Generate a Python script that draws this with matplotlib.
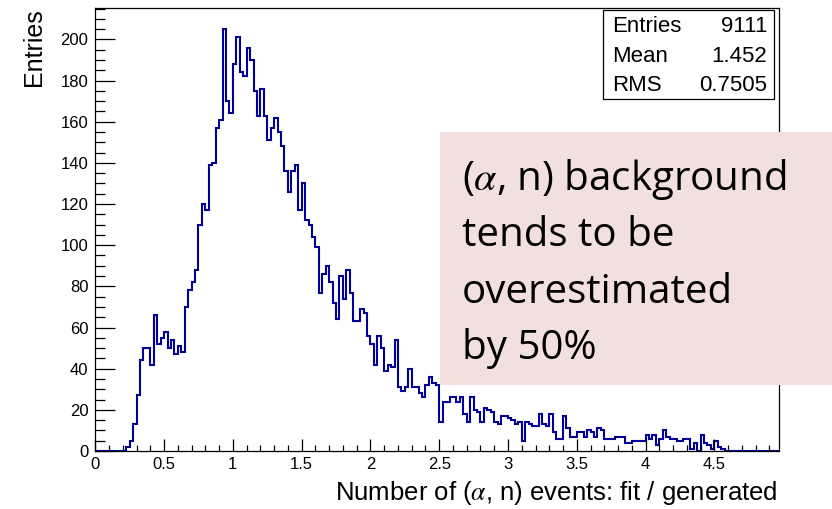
import numpy as np
import matplotlib
matplotlib.use('Agg')
import matplotlib.pyplot as plt
from matplotlib.ticker import MultipleLocator

# bin contents, 0.025 wide bins starting at 0
low_bins = [0, 0, 0, 0, 0, 0, 0, 0, 0,
            2, 5, 13, 27, 44, 50, 50, 42, 66, 52, 55, 58, 50, 54, 47, 51, 48,
            70, 78, 82, 88, 110, 120, 117]
peak_bins = [139, 140, 157, 161, 205, 170, 164, 188, 201, 184, 182, 196, 190,
             175, 163, 176, 163, 151, 157, 162, 155, 148, 136, 126, 136, 139, 117]
fall_bins = [130, 112, 110, 104, 99, 77, 86, 90, 82, 72, 64, 85, 74, 88, 77,
             63, 63, 69, 67, 56, 52, 42, 56, 50, 39, 42, 41, 54, 31, 29, 31, 40,
             31, 31, 28, 26, 32, 36, 33, 32]
tail_bins = [14, 24, 24, 26, 26, 24, 26, 18, 14, 26, 20, 19, 14, 21, 20, 19,
             14, 13, 17, 17, 16, 15, 13, 14, 5, 14, 13, 12, 12, 18, 13, 12, 18,
             9, 6, 6, 17,
             11, 7, 7, 9, 9, 7, 10, 9, 7, 11,
             10, 6, 6, 6, 7, 7, 7, 4, 4, 5, 5, 5, 5, 8, 6, 8, 3, 6, 10, 7, 6, 6,
             5, 5, 6, 6, 1, 4, 0, 8, 4, 3, 1, 5, 2, 1, 0]
counts = np.array(low_bins + peak_bins + fall_bins + tail_bins, dtype=float)
counts = np.concatenate([counts, np.zeros(200 - len(counts))])
edges = np.arange(201) * 0.025

stats_names = ['Entries', 'Mean', 'RMS']
stats_values = ['9111', '1.452', '0.7505']
note_lines = ['($\\alpha$, n) background', 'tends to be', 'overestimated', 'by 50%']

plt.rcParams['font.family'] = ['Liberation Sans', 'DejaVu Sans']
plt.rcParams['mathtext.fontset'] = 'stix'

W, H = 832, 509
fig = plt.figure(figsize=(W / 100, H / 100), dpi=100)
ax = fig.add_axes([95.3 / W, 1 - 451 / H, (779 - 95.3) / W, (451 - 8) / H])

ax.stairs(counts, edges, color='#000099', lw=1.5, baseline=0)

ax.set_xlim(0, 4.97)
ax.set_ylim(0, 215.25)
ax.xaxis.set_minor_locator(MultipleLocator(0.1))
ax.yaxis.set_major_locator(MultipleLocator(20))
ax.yaxis.set_minor_locator(MultipleLocator(5))
ax.set_xticks(np.arange(0, 5, 0.5))
ax.set_xticklabels(['0', '0.5', '1', '1.5', '2', '2.5', '3', '3.5', '4', '4.5'])
ax.tick_params(axis='x', which='major', direction='in', length=8.6, width=0.9, labelsize=12, pad=4)
ax.tick_params(axis='x', which='minor', direction='in', length=4.3, width=0.9)
ax.tick_params(axis='y', which='major', direction='in', length=14.4, width=0.9, labelsize=12, pad=5)
ax.tick_params(axis='y', which='minor', direction='in', length=7.2, width=0.9)
for s in ax.spines.values():
    s.set_linewidth(0.9)

fig.text(778 / W, 1 - 500 / H, 'Number of ($\\alpha$, n) events: fit / generated',
         ha='right', va='baseline', fontsize=18.5)
fig.text(34 / W, 1 - 8 / H, 'Entries', rotation=90, ha='center', va='top', fontsize=18)

# stats box
box = plt.Rectangle((603 / W, 1 - 99 / H), (774 - 603) / W, (99 - 10) / H,
                    transform=fig.transFigure, facecolor='white', edgecolor='black', lw=0.9, zorder=5)
fig.add_artist(box)
for i, (n, v) in enumerate(zip(stats_names, stats_values)):
    yc = 1 - (26 + 30 * i) / H
    fig.text(612 / W, yc, n, ha='left', va='center', fontsize=16, zorder=6)
    fig.text(767 / W, yc, v, ha='right', va='center', fontsize=16, zorder=6)

# pink note
note = plt.Rectangle((440 / W, 1 - 385 / H), (W - 440) / W, (385 - 132) / H,
                     transform=fig.transFigure, facecolor='#F2E0DE', edgecolor='none', zorder=5)
fig.add_artist(note)
for i, line in enumerate(note_lines):
    fig.text(462 / W, 1 - (190 + 56.3 * i) / H, line, ha='left', va='baseline',
             fontsize=29, family=['Open Sans', 'DejaVu Sans'], zorder=6)

fig.savefig('out.png', dpi=100)
